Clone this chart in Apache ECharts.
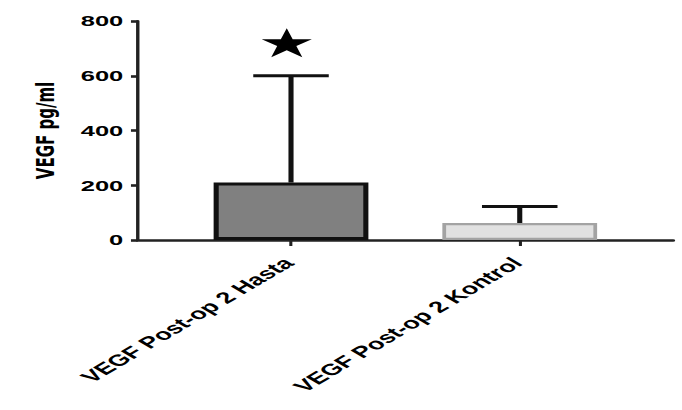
<!DOCTYPE html>
<html>
<head>
<meta charset="utf-8">
<script src="https://cdn.jsdelivr.net/npm/echarts@6/dist/echarts.min.js"></script>
<style>
html,body{margin:0;padding:0;background:#fff;overflow:hidden;width:682px;height:410px;}
#c{width:401px;height:410px;transform:scaleX(1.70075);transform-origin:0 0;}
</style>
</head>
<body>
<div id="c"></div>
<script>
// ---- data ----
const categories = ['VEGF Post-op 2 Hasta', 'VEGF Post-op 2 Kontrol'];
const groupIndex = [1, 2];
const means = [210, 62];
const errorUpper = [600, 122];
const significance = [721, null];
const yAxisName = 'VEGF pg/ml';
const yMin = 0, yMax = 800, yStep = 200;

const barFills = ['#808080', '#e1e1e1'];
const barBorders = ['#111111', '#a3a3a3'];
const barBorderWidths = [3, 2.2];

const chart = echarts.init(document.getElementById('c'), null, {renderer: 'svg'});

const barData = means.map((m, i) => ({
  value: [groupIndex[i], m],
  itemStyle: {color: barFills[i], borderColor: barBorders[i], borderWidth: barBorderWidths[i]}
}));
const errData = means.map((m, i) => [groupIndex[i], m, errorUpper[i]]);
const starData = significance.map((v, i) => v == null ? null : [groupIndex[i], v]).filter(d => d);

const starPath = 'path://M50,0 L61.23,34.55 L97.55,34.55 L68.16,55.9 L79.39,90.45 L50,69.1 L20.61,90.45 L31.84,55.9 L2.45,34.55 L38.77,34.55 Z';

chart.setOption({
  animation: false,
  backgroundColor: '#ffffff',
  grid: {left: 81, right: 5.3, top: 21, bottom: 170, containLabel: false},
  xAxis: {
    type: 'value', min: 0.33, max: 2.67,
    axisLine: {show: true, onZero: false, lineStyle: {color: '#222', width: 2.6}},
    axisTick: {show: true, customValues: groupIndex, length: 6, lineStyle: {color: '#222', width: 1.8}},
    axisLabel: {
      customValues: groupIndex,
      formatter: v => categories[groupIndex.indexOf(Math.round(v))] || '',
      rotate: 45, margin: 19, padding: [0, 2, 0, 0],
      fontFamily: 'Liberation Sans, Arial, sans-serif', fontWeight: 'bold', fontSize: 16, color: '#000'
    },
    splitLine: {show: false}
  },
  yAxis: {
    type: 'value', min: yMin, max: yMax, interval: yStep,
    name: yAxisName, nameLocation: 'middle', nameGap: 47,
    nameTextStyle: {fontFamily: 'DejaVu Sans, sans-serif', fontWeight: 'bold', fontSize: 15, color: '#000'},
    axisLine: {show: true, lineStyle: {color: '#222', width: 2}},
    axisTick: {show: true, length: 4, lineStyle: {color: '#222', width: 2.6}},
    axisLabel: {margin: 8.5, fontFamily: 'Liberation Sans, Arial, sans-serif', fontWeight: 'bold', fontSize: 15, color: '#000'},
    splitLine: {show: false}
  },
  series: [
    {
      type: 'bar', data: barData, barWidth: 91, z: 2
    },
    {
      type: 'custom', z: 3,
      data: errData,
      renderItem: function (params, api) {
        const x = api.value(0), m = api.value(1), u = api.value(2);
        const p0 = api.coord([x, m]);
        const p1 = api.coord([x, u]);
        const half = 22.2;
        const style = {stroke: '#111', lineWidth: 3};
        return {
          type: 'group',
          children: [
            {type: 'line', shape: {x1: p0[0], y1: p0[1], x2: p1[0], y2: p1[1]}, style: style},
            {type: 'line', shape: {x1: p1[0] - half, y1: p1[1], x2: p1[0] + half, y2: p1[1]}, style: style}
          ]
        };
      }
    },
    {
      type: 'scatter', z: 4,
      data: starData,
      symbol: starPath, symbolSize: [29.5, 29], symbolKeepAspect: false,
      symbolOffset: [-2.5, 0],
      itemStyle: {color: '#000', opacity: 1}
    }
  ]
});
</script>
</body>
</html>
